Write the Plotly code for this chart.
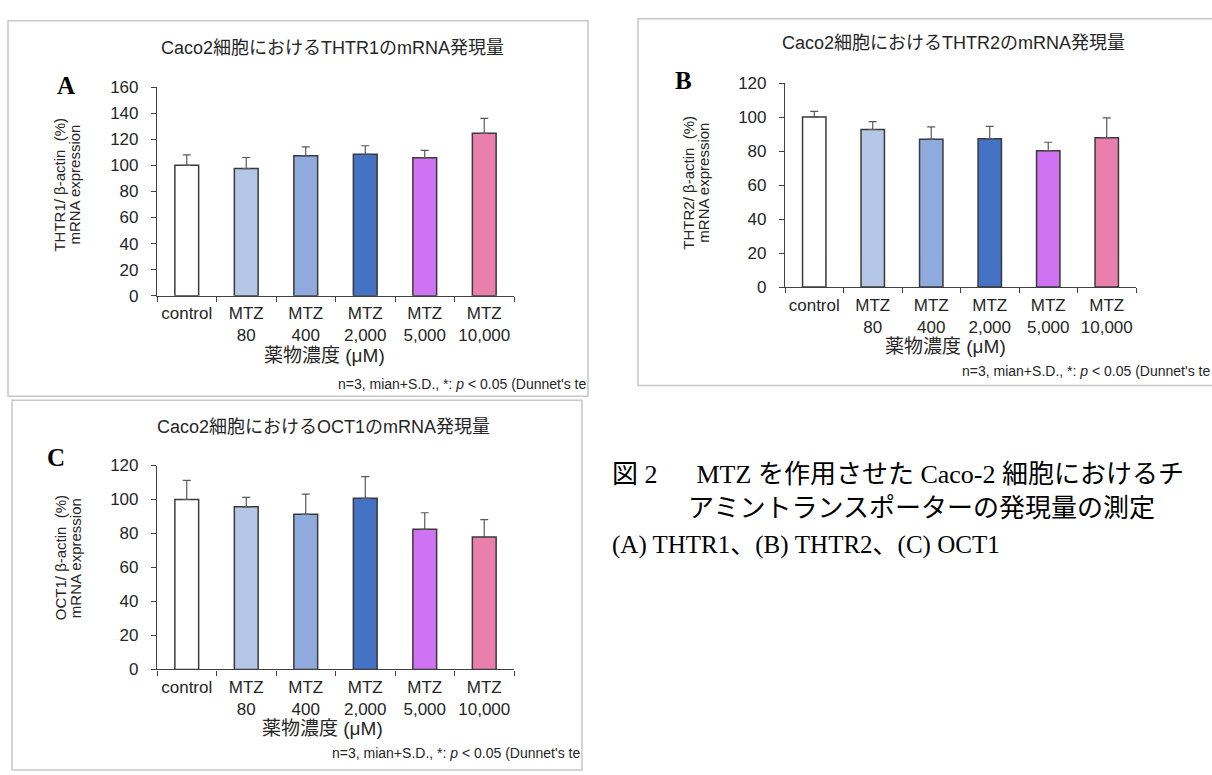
import plotly.graph_objects as go

W, H = 1212, 775

categories = ["control", "MTZ<br>80", "MTZ<br>400", "MTZ<br>2,000", "MTZ<br>5,000", "MTZ<br>10,000"]
bar_colors = ["#FFFFFF", "#B4C7E7", "#8FAADC", "#4472C4", "#CF73F2", "#EA7FAE"]

thtr1_mean = [100, 97.5, 107.3, 108.5, 105.8, 124.5]
thtr1_sd = [8.0, 8.5, 6.8, 6.5, 5.7, 11.5]

thtr2_mean = [100, 92.7, 87.0, 87.3, 80.2, 87.9]
thtr2_sd = [3.4, 4.6, 7.2, 7.3, 5.0, 11.7]

oct1_mean = [100, 95.7, 91.3, 100.7, 82.5, 77.9]
oct1_sd = [11.3, 5.5, 11.9, 12.8, 9.7, 10.3]

y_title_line1 = ["THTR1/ β-actin  (%)", "THTR2/ β-actin  (%)", "OCT1/ β-actin  (%)"]
y_title_line2 = "mRNA expression"
titles = ["Caco2細胞におけるTHTR1のmRNA発現量",
          "Caco2細胞におけるTHTR2のmRNA発現量",
          "Caco2細胞におけるOCT1のmRNA発現量"]
x_title = "薬物濃度 (μM)"
footnote = "n=3, mian+S.D., *: <i>p</i> < 0.05 (Dunnet's te"
caption1 = "図 2　\u00a0 MTZ を作用させた Caco-2 細胞におけるチ"
caption2 = "アミントランスポーターの発現量の測定"
caption3 = "(A) THTR1、(B) THTR2、(C) OCT1"

SANS = "Liberation Sans, Arial, Noto Sans CJK JP, sans-serif"
SERIF = "Liberation Serif, Times New Roman, Noto Sans CJK JP, serif"
TXT = "#262626"


def px(x):
    return x / W


def py(y):
    return 1 - y / H


panels = [
    dict(x0=157, x1=514, yt=80, yb=294, ymax=160, mean=thtr1_mean, sd=thtr1_sd,
         frame=(8, 12, 588, 397), title=(332, 40), letter="A", lpos=(66, 78),
         ytitle=(60, 75, 180), xtitle=(324, 355), foot=(588, 384)),
    dict(x0=785, x1=1136, yt=76, yb=285, ymax=120, mean=thtr2_mean, sd=thtr2_sd,
         frame=(638, 10, 1216, 386), title=(953, 35), letter="B", lpos=(684, 73),
         ytitle=(689, 704, 178), xtitle=(945, 346), foot=(1212, 371)),
    dict(x0=157, x1=514, yt=468, yb=677, ymax=120, mean=oct1_mean, sd=oct1_sd,
         frame=(12, 401, 582, 780), title=(323, 428), letter="C", lpos=(56, 460),
         ytitle=(60, 75, 563), xtitle=(322, 738), foot=(582, 763)),
]

fig = go.Figure()
shapes = []
annotations = []


def ann(text, x, y, size, family=SANS, color=TXT, xanchor="center", angle=0):
    return dict(text=text, x=px(x), y=py(y), xref="paper", yref="paper",
                showarrow=False, xanchor=xanchor, yanchor="middle", textangle=angle,
                font=dict(family=family, size=size, color=color))


for i, p in enumerate(panels):
    k = "" if i == 0 else str(i + 1)
    fig.add_trace(go.Bar(
        x=categories, y=p["mean"],
        marker=dict(color=bar_colors, line=dict(color="#3a3a3a", width=1.5)),
        error_y=dict(type="data", array=p["sd"], arrayminus=[0] * len(p["sd"]),
                     symmetric=False, color="#595959", thickness=1.2, width=4),
        xaxis="x" + k, yaxis="y" + k, showlegend=False, hoverinfo="skip",
    ))
    axis_common = dict(showline=True, linecolor="#404040", linewidth=1.2,
                       ticks="outside", ticklen=5, tickcolor="#404040",
                       tickfont=dict(family=SANS, size=17, color=TXT),
                       showgrid=False, zeroline=False, fixedrange=True)
    fig.layout["xaxis" + k] = dict(
        axis_common, domain=[px(p["x0"]), px(p["x1"])], anchor="y" + k,
        type="category", tickson="boundaries", tickangle=0, ticklabelstandoff=2,
        range=[-0.5, 5.5])
    fig.layout["yaxis" + k] = dict(
        axis_common, domain=[py(p["yb"]), py(p["yt"])], anchor="x" + k,
        range=[0, p["ymax"]], dtick=20, ticklabelstandoff=9)

    fx0, fy0, fx1, fy1 = p["frame"]
    shapes.append(dict(type="rect", xref="paper", yref="paper",
                       x0=px(fx0), x1=px(fx1), y0=py(fy1), y1=py(fy0),
                       line=dict(color="#c8c8c8", width=1.5), layer="below"))
    yx1, yx2, yy = p["ytitle"]
    annotations += [
        ann(titles[i], p["title"][0], p["title"][1], 18),
        ann("<b>" + p["letter"] + "</b>", p["lpos"][0], p["lpos"][1], 25,
            family=SERIF, color="#000000"),
        ann(y_title_line1[i], yx1, yy, 15, angle=-90),
        ann(y_title_line2, yx2, yy, 15, angle=-90),
        ann(x_title, p["xtitle"][0], p["xtitle"][1], 19),
        ann(footnote, p["foot"][0], p["foot"][1], 14, xanchor="right"),
    ]

annotations += [
    ann(caption1, 610, 477, 26, family=SERIF, color="#000000", xanchor="left"),
    ann(caption2, 686, 512, 26, family=SERIF, color="#000000", xanchor="left"),
    ann(caption3, 610, 549, 25, family=SERIF, color="#000000", xanchor="left"),
]

fig.update_layout(
    width=W, height=H, autosize=False,
    margin=dict(l=0, r=0, t=0, b=0, pad=0),
    paper_bgcolor="#FFFFFF", plot_bgcolor="#FFFFFF",
    bargap=0.6, shapes=shapes, annotations=annotations,
)

fig.write_html(
    "out.html",
    config={"displayModeBar": False},
    post_script="document.body.style.margin='0';document.body.style.overflow='hidden';",
)
